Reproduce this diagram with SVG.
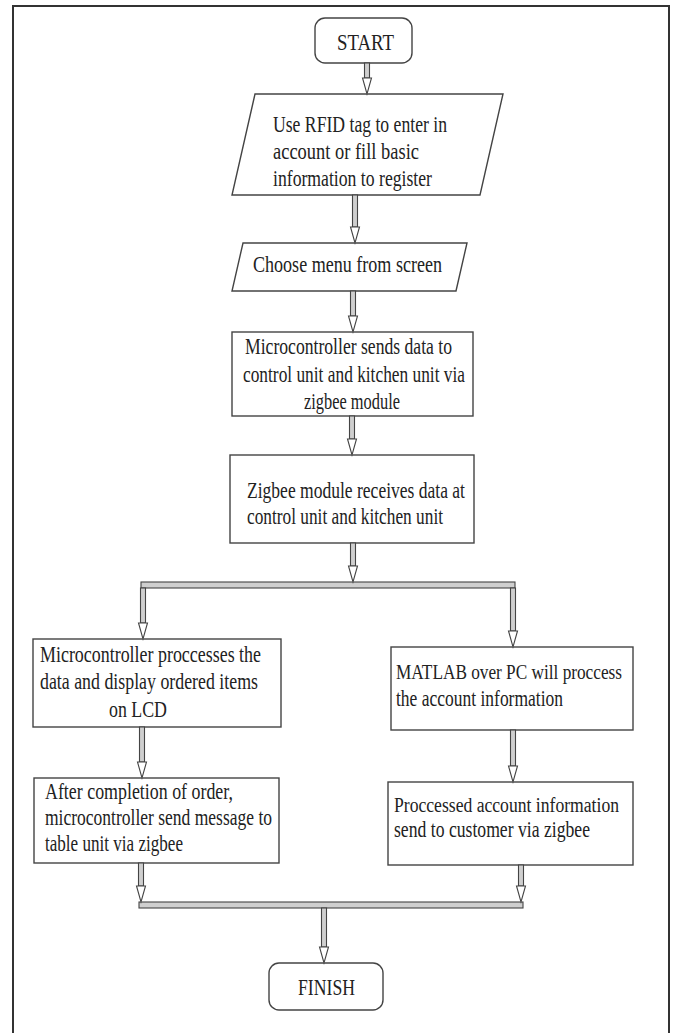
<svg xmlns="http://www.w3.org/2000/svg" width="673" height="1033" viewBox="0 0 673 1033">
<style>
.box{fill:#fff;stroke:#444;stroke-width:1.4}
.t{font-family:"Liberation Serif","Times New Roman",serif;font-size:23px;fill:#222}
.s{font-size:20px}
.shaft{fill:#cfcfcf;stroke:#444;stroke-width:1.1}
.head{fill:#fff;stroke:#444;stroke-width:1.1}
.bar{fill:#cfcfcf;stroke:#444;stroke-width:1.1}
</style>
<rect x="0" y="0" width="673" height="1033" fill="#fff"/>
<rect x="13" y="6" width="656" height="1040" fill="none" stroke="#333" stroke-width="2"/>
<g id="start">
<rect class="box" x="315" y="18" width="97" height="45" rx="10"/>
<text class="t" x="337" y="50" textLength="57" lengthAdjust="spacingAndGlyphs">START</text>
</g>
<g id="rfid">
<polygon class="box" points="255,94 503,94 480,195 232,195"/>
<text class="t" x="273" y="132" textLength="174" lengthAdjust="spacingAndGlyphs">Use RFID tag to enter in</text>
<text class="t" x="273" y="159" textLength="146" lengthAdjust="spacingAndGlyphs">account or fill basic</text>
<text class="t" x="273" y="186" textLength="159" lengthAdjust="spacingAndGlyphs">information to register</text>
</g>
<g id="menu">
<polygon class="box" points="243,243 467,243 456,291 232,291"/>
<text class="t" x="253" y="272" textLength="189" lengthAdjust="spacingAndGlyphs">Choose menu from screen</text>
</g>
<g id="micro">
<rect class="box" x="232" y="332" width="241" height="84"/>
<text class="t" x="245" y="354" textLength="207" lengthAdjust="spacingAndGlyphs">Microcontroller sends data to</text>
<text class="t" x="243" y="382" textLength="222" lengthAdjust="spacingAndGlyphs">control unit and kitchen unit via</text>
<text class="t" x="352" y="409" text-anchor="middle" textLength="96" lengthAdjust="spacingAndGlyphs">zigbee module</text>
</g>
<g id="zigbee">
<rect class="box" x="230" y="455" width="244" height="88"/>
<text class="t" x="247" y="498" textLength="218" lengthAdjust="spacingAndGlyphs">Zigbee module receives data at</text>
<text class="t" x="247" y="524" textLength="196" lengthAdjust="spacingAndGlyphs">control unit and kitchen unit</text>
</g>
<g id="lcd">
<rect class="box" x="33" y="639" width="248" height="88"/>
<text class="t" x="40" y="662" textLength="221" lengthAdjust="spacingAndGlyphs">Microcontroller proccesses the</text>
<text class="t" x="40" y="689" textLength="218" lengthAdjust="spacingAndGlyphs">data and display ordered items</text>
<text class="t" x="109" y="717" textLength="58" lengthAdjust="spacingAndGlyphs">on LCD</text>
</g>
<g id="order">
<rect class="box" x="34" y="778" width="245" height="85"/>
<text class="t" x="45" y="799" textLength="188" lengthAdjust="spacingAndGlyphs">After completion of order,</text>
<text class="t" x="45" y="825" textLength="227" lengthAdjust="spacingAndGlyphs">microcontroller send message to</text>
<text class="t" x="45" y="851" textLength="138" lengthAdjust="spacingAndGlyphs">table unit via zigbee</text>
</g>
<g id="matlab">
<rect class="box" x="391" y="647" width="242" height="83"/>
<text class="t s" x="396" y="679" textLength="226" lengthAdjust="spacingAndGlyphs">MATLAB over PC will proccess</text>
<text class="t" x="396" y="706" textLength="167" lengthAdjust="spacingAndGlyphs">the account information</text>
</g>
<g id="send">
<rect class="box" x="388" y="782" width="245" height="83"/>
<text class="t s" x="394" y="812" textLength="225" lengthAdjust="spacingAndGlyphs">Proccessed account information</text>
<text class="t" x="394" y="837" textLength="196" lengthAdjust="spacingAndGlyphs">send to customer via zigbee</text>
</g>
<g id="finish">
<rect class="box" x="269" y="963" width="114" height="47" rx="10"/>
<text class="t" x="298" y="995" textLength="57" lengthAdjust="spacingAndGlyphs">FINISH</text>
</g>
<g id="connectors">
<rect class="bar" x="141" y="582" width="374" height="6"/>
<rect class="bar" x="139" y="902" width="384" height="6"/>
<rect class="shaft" x="364.5" y="63" width="5" height="15"/><polygon class="head" points="362.5,78 371.5,78 367,94"/>
<rect class="shaft" x="352.5" y="195" width="5" height="32"/><polygon class="head" points="350.5,227 359.5,227 355,243"/>
<rect class="shaft" x="350.5" y="291" width="5" height="25"/><polygon class="head" points="348.5,316 357.5,316 353,332"/>
<rect class="shaft" x="349.5" y="416" width="5" height="23"/><polygon class="head" points="347.5,439 356.5,439 352,455"/>
<rect class="shaft" x="350.5" y="543" width="5" height="23"/><polygon class="head" points="348.5,566 357.5,566 353,582"/>
<rect class="shaft" x="140.5" y="588" width="5" height="35"/><polygon class="head" points="138.5,623 147.5,623 143,639"/>
<rect class="shaft" x="510.5" y="588" width="5" height="43"/><polygon class="head" points="508.5,631 517.5,631 513,647"/>
<rect class="shaft" x="139.5" y="727" width="5" height="35"/><polygon class="head" points="137.5,762 146.5,762 142,778"/>
<rect class="shaft" x="510.5" y="730" width="5" height="36"/><polygon class="head" points="508.5,766 517.5,766 513,782"/>
<rect class="shaft" x="138.5" y="863" width="5" height="23"/><polygon class="head" points="136.5,886 145.5,886 141,902"/>
<rect class="shaft" x="518.5" y="865" width="5" height="21"/><polygon class="head" points="516.5,886 525.5,886 521,902"/>
<rect class="shaft" x="321.5" y="908" width="5" height="39"/><polygon class="head" points="319.5,947 328.5,947 324,963"/>
</g>
</svg>
